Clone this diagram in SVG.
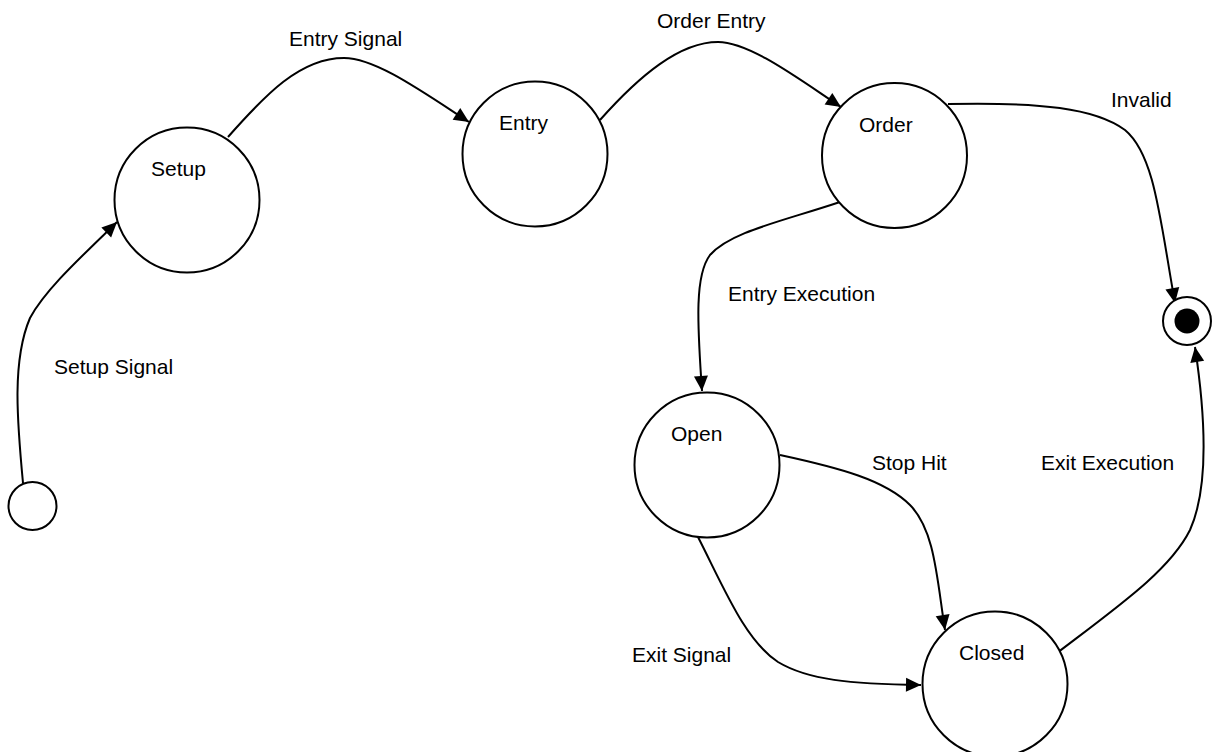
<svg xmlns="http://www.w3.org/2000/svg" width="1215" height="752" viewBox="0 0 1215 752">
<style>
.state{fill:#fff;stroke:#000;stroke-width:2}
.lbl{font-family:"Liberation Sans",Arial,sans-serif;font-size:21px;fill:#000}
.edge{fill:none;stroke:#000;stroke-width:2}
</style>
<defs>
<marker id="arr" markerUnits="userSpaceOnUse" markerWidth="16" markerHeight="14" refX="15" refY="7" orient="auto" overflow="visible">
<path d="M0,0 L15,7 L0,14 z" fill="#000"/>
</marker>
</defs>
<rect width="1215" height="752" fill="#fff"/>
<g id="connectors">
<path class="edge" marker-end="url(#arr)" d="M23,483 C17,420 12,360 30,318 C45,290 80,258 117,222"/>
<path class="edge" marker-end="url(#arr)" d="M228,137 C265,95 300,58 344,58 C375,58 420,90 469,122"/>
<path class="edge" marker-end="url(#arr)" d="M600,120 C640,75 680,42 718,42 C750,42 800,80 841,107"/>
<path class="edge" marker-end="url(#arr)" d="M948,104 C1040,102 1095,108 1125,130 C1155,155 1160,220 1175,303"/>
<path class="edge" marker-end="url(#arr)" d="M840,202 C780,222 730,232 710,255 C695,275 697,320 702,391"/>
<path class="edge" marker-end="url(#arr)" d="M780,455 C840,468 885,480 910,505 C935,530 937,580 945,630"/>
<path class="edge" marker-end="url(#arr)" d="M698,537 C725,590 745,640 778,662 C808,680 850,684 921,685"/>
<path class="edge" marker-end="url(#arr)" d="M1057,653 C1120,605 1170,570 1190,530 C1208,490 1206,420 1195,347"/>
<text class="lbl" x="54" y="374">Setup Signal</text>
<text class="lbl" x="289" y="46">Entry Signal</text>
<text class="lbl" x="657" y="28">Order Entry</text>
<text class="lbl" x="1111" y="107">Invalid</text>
<text class="lbl" x="728" y="301">Entry Execution</text>
<text class="lbl" x="872" y="470">Stop Hit</text>
<text class="lbl" x="1041" y="470">Exit Execution</text>
<text class="lbl" x="632" y="662">Exit Signal</text>
</g>
<g id="initial">
<circle class="state" cx="32.5" cy="506" r="24"/>
</g>
<g id="setup">
<circle class="state" cx="187" cy="200" r="72.5"/>
<text class="lbl" x="151" y="176">Setup</text>
</g>
<g id="entry">
<circle class="state" cx="535" cy="154" r="72.5"/>
<text class="lbl" x="499" y="130">Entry</text>
</g>
<g id="order">
<circle class="state" cx="894.5" cy="155.5" r="72.5"/>
<text class="lbl" x="859" y="132">Order</text>
</g>
<g id="open">
<circle class="state" cx="707" cy="465" r="72.5"/>
<text class="lbl" x="671" y="441">Open</text>
</g>
<g id="closed">
<circle class="state" cx="995" cy="684" r="72.5"/>
<text class="lbl" x="959" y="660">Closed</text>
</g>
<g id="final">
<circle class="state" cx="1187" cy="321" r="24"/>
<circle cx="1187" cy="321" r="12.5" fill="#000"/>
</g>
</svg>
